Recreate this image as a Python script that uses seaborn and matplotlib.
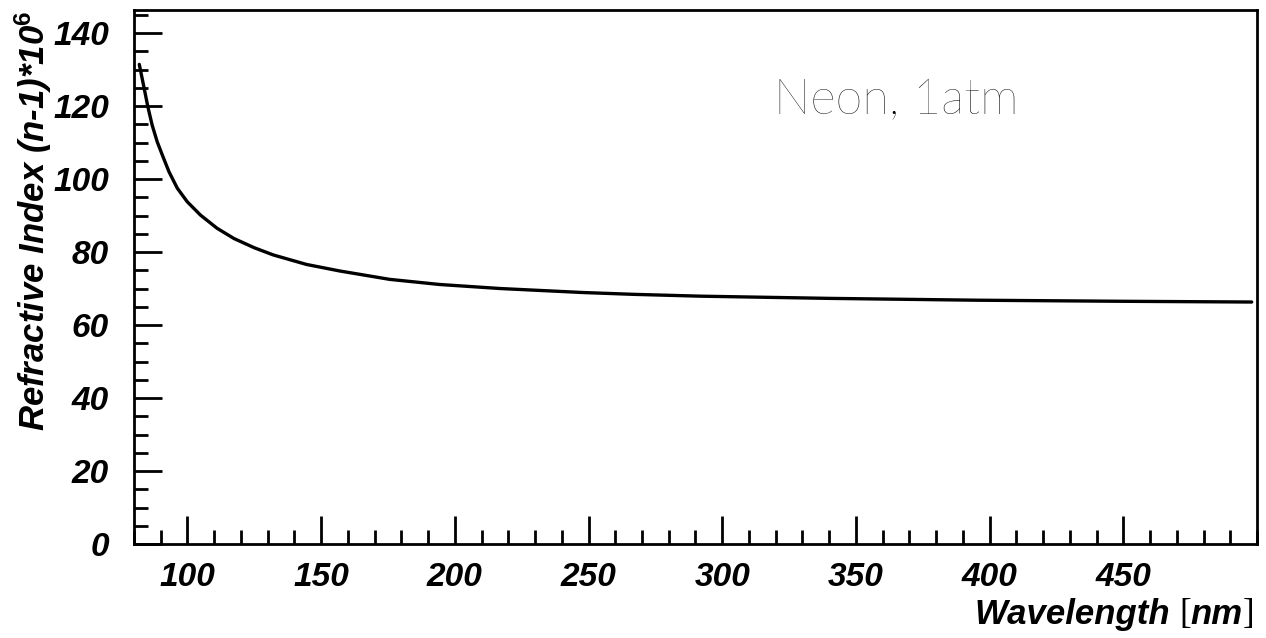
import numpy as np
import pandas as pd
import matplotlib
matplotlib.use("Agg")
import matplotlib.pyplot as plt
import seaborn as sns
from matplotlib.ticker import MultipleLocator

# Data

wavelength = [82, 83.7, 85.2, 86.8, 88.7, 90.6, 93.1, 96.2, 99.9, 104.9,
              111.1, 117.4, 124.9, 132.1, 144.5, 157, 175.7, 194.4, 216.9,
              248, 267, 292, 340, 395, 450, 498]
index_n1 = [131.4, 125.3, 119.8, 114.8, 110.2, 106.6, 102.0, 97.5, 93.8,
            90.1, 86.5, 83.7, 81.2, 79.2, 76.6, 74.8, 72.5, 71.1, 70.0,
            68.9, 68.4, 67.9, 67.3, 66.8, 66.5, 66.3]

label_text = "Neon, 1atm"

df = pd.DataFrame({"Wavelength": wavelength, "Index": index_n1})

# Style

sns.set_theme(style="white")
plt.rcParams["font.family"] = ["Liberation Sans", "DejaVu Sans"]
plt.rcParams["text.color"] = "black"
plt.rcParams["axes.labelcolor"] = "black"
plt.rcParams["xtick.color"] = "black"
plt.rcParams["ytick.color"] = "black"
plt.rcParams["mathtext.fontset"] = "custom"
plt.rcParams["mathtext.it"] = "Liberation Sans:italic:bold"
plt.rcParams["mathtext.rm"] = "Liberation Sans:bold"

fig = plt.figure(figsize=(12.66, 6.38), dpi=100)
ax = fig.add_axes([0.1058, 0.1473, 0.9929 - 0.1058, 0.9843 - 0.1473])

sns.lineplot(
    data=df,
    x="Wavelength",
    y="Index",
    estimator=None,
    sort=True,
    color="black",
    linewidth=2.4,
    ax=ax
)

ax.set_xlim(80, 500)
ax.set_ylim(0, 146.3)

ax.xaxis.set_major_locator(MultipleLocator(50))
ax.xaxis.set_minor_locator(MultipleLocator(10))
ax.yaxis.set_major_locator(MultipleLocator(20))
ax.yaxis.set_minor_locator(MultipleLocator(5))

ax.set_xticks([t for t in range(100, 500, 50)])

ax.tick_params(which="both", direction="in", top=False, right=False,
               bottom=True, left=True, color="black", width=2)
ax.tick_params(which="major", length=20)
ax.tick_params(which="minor", length=10)
ax.tick_params(axis="x", which="major", pad=13)
ax.tick_params(axis="y", which="major", pad=18)

for lab in ax.get_xticklabels() + ax.get_yticklabels():
    lab.set_fontsize(24)
    lab.set_fontweight("bold")
    lab.set_fontstyle("italic")
    lab.set_color("black")

for sp in ax.spines.values():
    sp.set_visible(True)
    sp.set_color("black")
    sp.set_linewidth(2)

ax.set_xlabel("")
ax.set_ylabel(
    r"Refractive Index (n-1)*10$^{\mathit{6}}$",
    fontsize=25,
    fontweight="bold",
    fontstyle="italic",
    color="black"
)
ax.yaxis.set_label_coords(-0.071, 0.605)

# x label: bold italic words with upright brackets, chained from the right

t_close = fig.text(0.991, 0.024, "]", fontsize=25, ha="right", va="baseline",
                   family="Liberation Serif", color="black")
t_nm = ax.annotate("nm", xy=(0, 0), xycoords=t_close, ha="right", va="bottom",
                   fontsize=25, fontweight="bold", fontstyle="italic",
                   color="black")
t_open = ax.annotate("[", xy=(0, 0), xycoords=t_nm, ha="right", va="bottom",
                     fontsize=25, family="Liberation Serif", color="black")
ax.annotate("Wavelength ", xy=(0, 0), xycoords=t_open, ha="right", va="bottom",
            fontsize=25, fontweight="bold", fontstyle="italic", color="black")

ax.text(365, 121.4, label_text, fontsize=35, fontweight="light",
        family=["Lato", "DejaVu Sans"], ha="center", va="center",
        color="black")

plt.savefig("out.png", dpi=100)
